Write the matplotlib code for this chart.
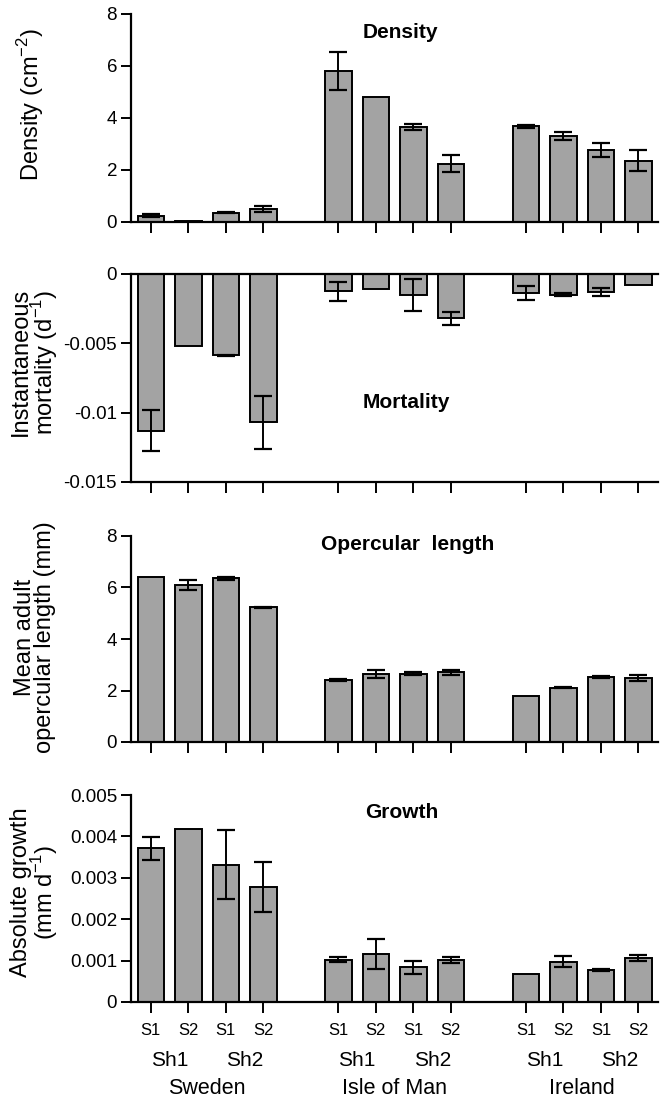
import matplotlib
matplotlib.use("Agg")
import matplotlib.pyplot as plt
import numpy as np

plt.rcParams['font.family'] = ['Liberation Sans', 'DejaVu Sans']

# ---- data ----
countries = ["Sweden", "Isle of Man", "Ireland"]
shores = ["Sh1", "Sh2"]
sites = ["S1", "S2", "S1", "S2"]

density = [0.25, 0.03, 0.35, 0.50,
           5.80, 4.80, 3.65, 2.25,
           3.68, 3.31, 2.77, 2.36]
density_err = [0.05, 0.0, 0.02, 0.12,
               0.72, 0.0, 0.12, 0.31,
               0.06, 0.17, 0.28, 0.41]

mortality = [-0.0113, -0.00517, -0.00587, -0.0107,
             -0.00125, -0.00106, -0.0015, -0.0032,
             -0.00137, -0.0015, -0.0013, -0.0008]
mortality_err = [0.0015, 0.0, 0.00003, 0.0019,
                 0.0007, 0.0, 0.00115, 0.00045,
                 0.0005, 0.0001, 0.00028, 0.0]

opercular = [6.39, 6.09, 6.36, 5.23,
             2.41, 2.65, 2.66, 2.71,
             1.79, 2.10, 2.53, 2.48]
opercular_err = [0.0, 0.20, 0.05, 0.02,
                 0.05, 0.15, 0.06, 0.10,
                 0.0, 0.02, 0.05, 0.12]

growth = [0.00371, 0.00417, 0.00332, 0.00277,
          0.00102, 0.00116, 0.00084, 0.00102,
          0.00068, 0.00097, 0.00077, 0.00106]
growth_err = [0.00027, 0.0, 0.00083, 0.0006,
              0.00006, 0.00036, 0.00016, 0.00007,
              0.0, 0.00013, 0.00002, 0.00007]

density_ticks = [0, 2, 4, 6, 8]
density_ticklabels = ["0", "2", "4", "6", "8"]
mortality_ticks = [-0.015, -0.01, -0.005, 0]
mortality_ticklabels = ["-0.015", "-0.01", "-0.005", "0"]
opercular_ticks = [0, 2, 4, 6, 8]
opercular_ticklabels = ["0", "2", "4", "6", "8"]
growth_ticks = [0, 0.001, 0.002, 0.003, 0.004, 0.005]
growth_ticklabels = ["0", "0.001", "0.002", "0.003", "0.004", "0.005"]

titles = ["Density", "Mortality", "Opercular  length", "Growth"]
ylabels = [r"Density (cm$^{\mathregular{-2}}$)",
           "Instantaneous\n" + r"mortality (d$^{\mathregular{-1}}$)",
           "Mean adult\nopercular length (mm)",
           "Absolute growth\n" + r"(mm d$^{\mathregular{-1}}$)"]

# ---- layout ----
W, H = 667, 1103
fig = plt.figure(figsize=(W / 100, H / 100), dpi=100)

positions = np.array([g * 5 + i for g in range(3) for i in range(4)], dtype=float)

left_px, right_px = 131, 658
panels = [(14, 222), (274, 482), (536, 742), (795, 1002)]
panel_data = [
    (density, density_err, (0, 8), density_ticks, density_ticklabels),
    (mortality, mortality_err, (-0.015, 0), mortality_ticks, mortality_ticklabels),
    (opercular, opercular_err, (0, 8), opercular_ticks, opercular_ticklabels),
    (growth, growth_err, (0, 0.005), growth_ticks, growth_ticklabels),
]
title_pos = [(400, 32), (406, 403), (408, 545), (402, 813)]
ylabel_pos = [(31, 104), (35, 362), (35, 637), (35, 892)]

bar_color = "#a3a3a3"
axes = []
for k, ((top, bot), (vals, errs, ylim, yt, ytl)) in enumerate(zip(panels, panel_data)):
    ax = fig.add_axes([left_px / W, 1 - bot / H, (right_px - left_px) / W, (bot - top) / H])
    axes.append(ax)
    ax.bar(positions, vals, width=0.70, color=bar_color, edgecolor="black",
           linewidth=1.4, zorder=2)
    errs_arr = np.array(errs)
    mask = errs_arr > 0
    ax.errorbar(positions[mask], np.array(vals)[mask], yerr=errs_arr[mask], fmt="none",
                ecolor="black", elinewidth=1.4, capsize=6.5, capthick=1.6, zorder=3)
    ax.set_xlim(-0.53, 13.52)
    ax.set_ylim(*ylim)
    ax.set_yticks(yt)
    ax.set_yticklabels(ytl)
    ax.set_xticks(positions)
    ax.spines["right"].set_visible(False)
    ax.spines["top"].set_visible(k == 1)
    for side in ["left", "bottom", "top"]:
        ax.spines[side].set_linewidth(1.6)
    ax.tick_params(axis="y", direction="out", length=7, width=1.4, labelsize=13.5, pad=3)
    ax.tick_params(axis="x", direction="out", length=8, width=1.4, labelsize=12, pad=7)
    if k < 3:
        ax.set_xticklabels([])
    else:
        ax.set_xticklabels(sites * 3)
    tx, ty = title_pos[k]
    fig.text(tx / W, 1 - ty / H, titles[k], ha="center", va="center",
             fontsize=15, fontweight="bold")
    lx, ly = ylabel_pos[k]
    fig.text(lx / W, 1 - ly / H, ylabels[k], rotation=90,
             ha="center", va="center", fontsize=17, linespacing=0.85)

ax = axes[3]
trans = ax.get_xaxis_transform()
for g in range(3):
    for j, sh in enumerate(shores):
        ax.text(g * 5 + 2 * j + 0.5, -58 / 207, sh, transform=trans, ha="center",
                va="center", fontsize=15)
    ax.text(g * 5 + 1.5, -87 / 207, countries[g], transform=trans, ha="center",
            va="center", fontsize=15.5)

fig.savefig("out.png", dpi=100)
